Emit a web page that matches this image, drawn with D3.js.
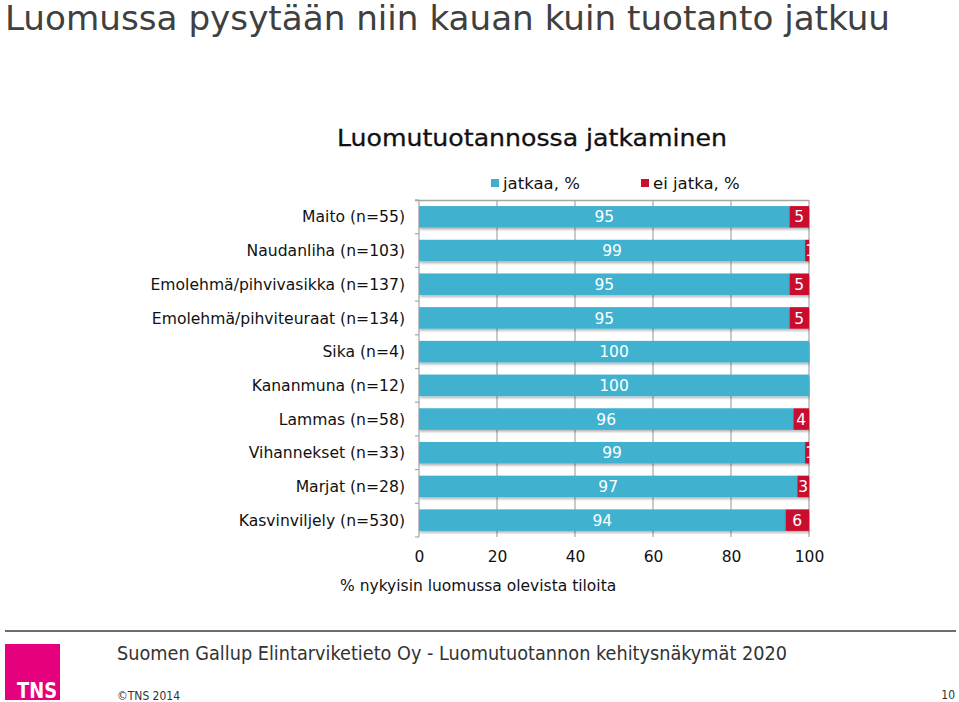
<!DOCTYPE html>
<html><head><meta charset="utf-8">
<script src="https://cdn.jsdelivr.net/npm/d3@7"></script>
<style>
body{margin:0;background:#fff;}
svg{display:block;}
text{font-family:"DejaVu Sans",Verdana,sans-serif;}
</style></head>
<body>
<svg id="c" width="959" height="702"></svg>
<script>
const categories = ["Maito (n=55)","Naudanliha (n=103)","Emolehmä/pihvivasikka (n=137)","Emolehmä/pihviteuraat (n=134)","Sika (n=4)","Kananmuna (n=12)","Lammas (n=58)","Vihannekset (n=33)","Marjat (n=28)","Kasvinviljely (n=530)"];
const jatkaa = [95,99,95,95,100,100,96,99,97,94];
const eiJatka = [5,1,5,5,0,0,4,1,3,6];
const xTicks = [0,20,40,60,80,100];
const seriesNames = ["jatkaa, %","ei jatka, %"];

const svg = d3.select("#c");
const blue = "#3fb1cf", red = "#c8102e", grid = "#a6a6a6";

const x = d3.scaleLinear().domain([0,100]).range([419,809]);
const y = d3.scaleBand().domain(categories).range([200,537]).paddingInner(0.36).paddingOuter(0.18);

const defs = svg.append("defs");
const f = defs.append("filter").attr("id","sh").attr("x","-5%").attr("y","-30%").attr("width","110%").attr("height","180%");
f.append("feDropShadow").attr("dx",1).attr("dy",2).attr("stdDeviation",1.2).attr("flood-color","#000").attr("flood-opacity",0.28);
defs.append("clipPath").attr("id","clip").append("rect").attr("x",410).attr("y",190).attr("width",400).attr("height",360);

// main title
svg.append("text").attr("x",5).attr("y",30).attr("font-size",33).attr("fill","#404040")
  .style("font-family","'DejaVu Sans Condensed','DejaVu Sans',sans-serif").style("font-stretch","condensed")
  .attr("textLength",885).attr("lengthAdjust","spacingAndGlyphs")
  .text("Luomussa pysytään niin kauan kuin tuotanto jatkuu");

// chart title
svg.append("text").attr("x",532).attr("y",146).attr("text-anchor","middle").attr("font-size",23).attr("fill","#111")
  .attr("stroke","#111").attr("stroke-width",0.3)
  .attr("textLength",390).attr("lengthAdjust","spacingAndGlyphs").text("Luomutuotannossa jatkaminen");

// legend
const leg = [{n:seriesNames[0],c:blue,x:491},{n:seriesNames[1],c:red,x:641}];
leg.forEach(l=>{
  svg.append("rect").attr("x",l.x).attr("y",179).attr("width",8).attr("height",8).attr("fill",l.c);
  svg.append("text").attr("x",l.x+12).attr("y",189).attr("font-size",16.5).attr("fill","#111").text(l.n);
});

// gridlines
svg.append("g").selectAll("line").data(xTicks.slice(1)).join("line")
  .attr("x1",d=>x(d)).attr("x2",d=>x(d)).attr("y1",200).attr("y2",537)
  .attr("stroke",grid).attr("stroke-width",1.2);
svg.append("line").attr("x1",415).attr("x2",809).attr("y1",200.5).attr("y2",200.5).attr("stroke",grid).attr("stroke-width",1.5);
svg.append("line").attr("x1",419).attr("x2",419).attr("y1",200).attr("y2",537).attr("stroke",grid).attr("stroke-width",1.2);
const bounds = d3.range(categories.length+1).map(i=>200+i*(337/categories.length));
svg.append("g").selectAll("line").data(bounds).join("line")
  .attr("x1",415).attr("x2",419).attr("y1",d=>d).attr("y2",d=>d).attr("stroke",grid).attr("stroke-width",1.2);

// bars
const g = svg.append("g").attr("clip-path","url(#clip)");
const rows = categories.map((c,i)=>({c,a:jatkaa[i],b:eiJatka[i]}));
g.selectAll("rect.a").data(rows).join("rect").attr("class","a")
  .attr("x",x(0)).attr("y",d=>y(d.c)).attr("width",d=>x(d.a)-x(0)).attr("height",y.bandwidth())
  .attr("fill",blue).attr("filter","url(#sh)");
g.selectAll("rect.b").data(rows.filter(d=>d.b>0)).join("rect").attr("class","b")
  .attr("x",d=>x(d.a)).attr("y",d=>y(d.c)).attr("width",d=>x(d.a+d.b)-x(d.a)).attr("height",y.bandwidth())
  .attr("fill",red).attr("filter","url(#sh)");
g.selectAll("text.a").data(rows).join("text").attr("class","a")
  .attr("x",d=>(x(0)+x(d.a))/2).attr("y",d=>y(d.c)+y.bandwidth()/2).attr("dy","0.36em")
  .attr("text-anchor","middle").attr("font-size",15.5).attr("fill","#fff").text(d=>d.a);
g.selectAll("text.b").data(rows.filter(d=>d.b>0)).join("text").attr("class","b")
  .attr("x",d=>d.b>=2?(x(d.a)+x(d.a+d.b))/2:x(d.a)+5).attr("y",d=>y(d.c)+y.bandwidth()/2).attr("dy","0.36em")
  .attr("text-anchor","middle").attr("font-size",15.5).attr("fill","#fff").text(d=>d.b);

// category labels
svg.append("g").selectAll("text").data(categories).join("text")
  .attr("x",405).attr("y",d=>y(d)+y.bandwidth()/2).attr("dy","0.36em").attr("text-anchor","end")
  .attr("font-size",15.6).attr("fill","#111").text(d=>d);

// x axis labels
const xa = svg.append("g").attr("transform","translate(0,537)")
  .call(d3.axisBottom(x).tickValues(xTicks).tickSize(0).tickPadding(14).tickFormat(d3.format("d")));
xa.select(".domain").remove();
xa.selectAll("text").attr("font-size",15.5).attr("fill","#111").style("font-family","'DejaVu Sans',sans-serif");

svg.append("text").attr("x",340).attr("y",591).attr("font-size",15.5).attr("fill","#111").text("% nykyisin luomussa olevista tiloita");

// footer
svg.append("line").attr("x1",5).attr("x2",956).attr("y1",631).attr("y2",631).attr("stroke","#6d6d6d").attr("stroke-width",2);
svg.append("rect").attr("x",5).attr("y",644).attr("width",55).attr("height",56).attr("fill","#e5007e");
svg.append("text").attr("x",57).attr("y",698).attr("text-anchor","end").attr("font-size",22).attr("font-weight","bold").attr("fill","#fff")
  .style("font-family","'DejaVu Sans Condensed','DejaVu Sans',sans-serif").attr("textLength",40).attr("lengthAdjust","spacingAndGlyphs").text("TNS");
svg.append("text").attr("x",117).attr("y",660).attr("font-size",19).attr("fill","#333")
  .style("font-family","'DejaVu Sans Condensed','DejaVu Sans',sans-serif")
  .attr("textLength",670).attr("lengthAdjust","spacingAndGlyphs")
  .text("Suomen Gallup Elintarviketieto Oy - Luomutuotannon kehitysnäkymät 2020");
svg.append("text").attr("x",117).attr("y",700).attr("font-size",12).attr("fill","#333")
  .style("font-family","'DejaVu Sans Condensed','DejaVu Sans',sans-serif").attr("textLength",63).attr("lengthAdjust","spacingAndGlyphs").text("©TNS 2014");
svg.append("text").attr("x",955).attr("y",699).attr("text-anchor","end").attr("font-size",12).attr("fill","#333")
  .style("font-family","'DejaVu Sans Condensed','DejaVu Sans',sans-serif").text("10");
</script>
</body></html>
